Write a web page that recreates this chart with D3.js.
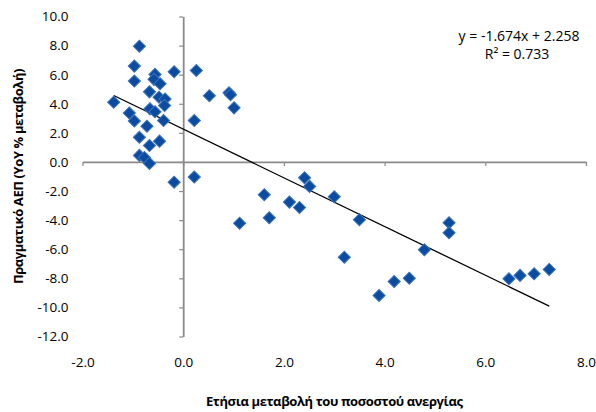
<!DOCTYPE html>
<html>
<head>
<meta charset="utf-8">
<script src="https://cdn.jsdelivr.net/npm/d3@7"></script>
<style>
  body { margin: 0; background: #fff; }
  svg text { font-family: "Open Sans", "DejaVu Sans", sans-serif; fill: #000; }
  .axis path, .axis line { stroke: #8a8a8a; }
</style>
</head>
<body>
<div id="chart"></div>
<script>
'use strict';

// unemployment change (x) vs real GDP YoY change (y)
const unemploymentChange = [
  -0.87, -0.97, -0.97, -0.56, -0.58, -0.46, -0.18, 0.26, -0.67, -1.38,
  -0.48, -0.36, -0.37, -0.66, -0.56, -1.07, -0.97, -0.39, -0.72, 0.22,
  0.52, 0.91, 0.94, 1.01, -0.87, -0.47, -0.67, -0.87, -0.77, -0.67,
  -0.18, 0.22, 1.12, 1.61, 1.71, 2.11, 2.31, 2.41, 2.51, 3.00,
  3.20, 3.50, 3.89, 4.19, 4.49, 4.79, 5.28, 5.28, 6.47, 6.69,
  6.97, 7.27
];
const gdpChange = [
  7.96, 6.59, 5.56, 6.02, 5.68, 5.38, 6.20, 6.29, 4.82, 4.11,
  4.45, 4.33, 3.88, 3.65, 3.45, 3.36, 2.82, 2.85, 2.46, 2.85,
  4.55, 4.76, 4.62, 3.72, 1.70, 1.43, 1.13, 0.45, 0.30, -0.10,
  -1.39, -1.04, -4.21, -2.25, -3.84, -2.76, -3.13, -1.09, -1.68, -2.39,
  -6.55, -3.97, -9.18, -8.22, -7.99, -6.04, -4.18, -4.87, -8.03, -7.80,
  -7.69, -7.39
];
const xTicks = [-2, 0, 2, 4, 6, 8];
const yTicks = [10, 8, 6, 4, 2, 0, -2, -4, -6, -8, -10, -12];
const slope = -1.674;
const intercept = 2.258;
const equationText = "y = -1.674x + 2.258";
const r2Text = "R² = 0.733";
const xTitle = "Ετήσια μεταβολή του ποσοστού ανεργίας";
const yTitle = "Πραγματικό ΑΕΠ (YoY % μεταβολή)";

const width = 596, height = 412;
const plot = { left: 82.5, right: 586, top: 16.5, bottom: 336.5 };

const svg = d3.select("#chart").append("svg")
  .attr("width", width)
  .attr("height", height);

const x = d3.scaleLinear().domain([-2, 8]).range([plot.left, plot.right]);
const y = d3.scaleLinear().domain([-12, 10]).range([plot.bottom, plot.top]);
const fmt = d => d.toFixed(1);

// x axis crosses at y = 0
const xAxis = svg.append("g")
  .attr("class", "axis")
  .attr("transform", "translate(0," + y(0) + ")")
  .call(d3.axisBottom(x).tickValues(xTicks).tickFormat(fmt).tickSizeInner(4).tickSizeOuter(0));
xAxis.select(".domain").attr("stroke-width", 1.8);
xAxis.selectAll(".tick line").attr("stroke-width", 1.2);
xAxis.selectAll(".tick text")
  .attr("y", 362 - y(0))
  .attr("dy", "0.35em")
  .attr("font-size", "13.5px");

// y axis crosses at x = 0
const yAxis = svg.append("g")
  .attr("class", "axis")
  .attr("transform", "translate(" + x(0) + ",0)")
  .call(d3.axisLeft(y).tickValues(yTicks).tickFormat(fmt).tickSizeInner(4).tickSizeOuter(0));
yAxis.select(".domain").attr("stroke-width", 1.8);
yAxis.selectAll(".tick line").attr("stroke-width", 1.2);
yAxis.selectAll(".tick text")
  .attr("x", 68.5 - x(0))
  .attr("font-size", "13.5px");

svg.selectAll(".axis text").attr("fill", "#000");

// trendline over the data range
const xMin = d3.min(unemploymentChange), xMax = d3.max(unemploymentChange);
svg.append("path")
  .datum([xMin, xMax])
  .attr("fill", "none")
  .attr("stroke", "#000")
  .attr("stroke-width", 1.3)
  .attr("d", d3.line().x(d => x(d)).y(d => y(slope * d + intercept)));

// diamond markers
const diamond = d3.symbol(d3.symbolSquare, 74)();
svg.append("g")
  .selectAll("path")
  .data(d3.range(unemploymentChange.length))
  .enter().append("path")
  .attr("d", diamond)
  .attr("transform", i => "translate(" + x(unemploymentChange[i]) + "," + y(gdpChange[i]) + ") rotate(45)")
  .attr("fill", "#0b4ca1")
  .attr("stroke", "#3b72b9")
  .attr("stroke-width", 1);

// regression label
svg.append("text")
  .attr("x", 519).attr("y", 36)
  .attr("dy", "0.35em")
  .attr("text-anchor", "middle")
  .attr("font-size", "14px")
  .text(equationText);
svg.append("text")
  .attr("x", 517).attr("y", 54)
  .attr("dy", "0.35em")
  .attr("text-anchor", "middle")
  .attr("font-size", "14px")
  .text(r2Text);

// axis titles
svg.append("text")
  .attr("x", (plot.left + plot.right) / 2)
  .attr("y", 401)
  .attr("dy", "0.35em")
  .attr("text-anchor", "middle")
  .attr("font-size", "13px")
  .attr("font-weight", "bold")
  .attr("letter-spacing", "-0.4px")
  .text(xTitle);

svg.append("text")
  .attr("transform", "translate(18," + (plot.top + plot.bottom) / 2 + ") rotate(-90)")
  .attr("dy", "0.35em")
  .attr("text-anchor", "middle")
  .attr("font-size", "13px")
  .attr("font-weight", "bold")
  .attr("letter-spacing", "-0.4px")
  .text(yTitle);
</script>
</body>
</html>
